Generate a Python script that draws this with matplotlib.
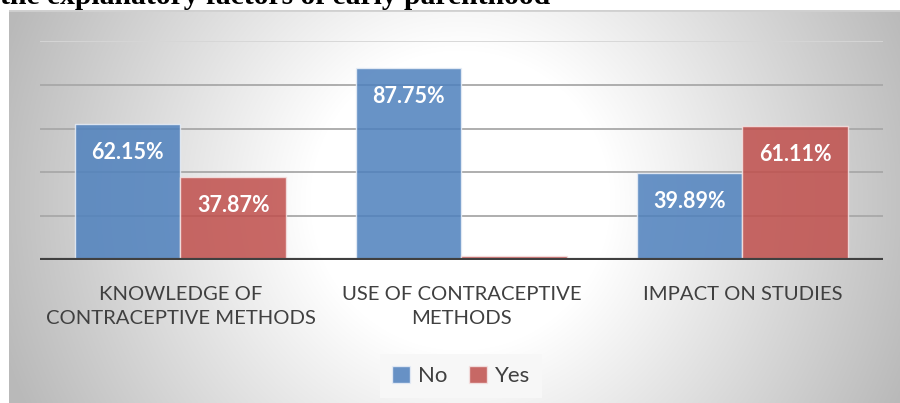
import matplotlib
matplotlib.use("Agg")
import matplotlib.pyplot as plt
import numpy as np

categories = ["KNOWLEDGE OF\nCONTRACEPTIVE METHODS", "USE OF CONTRACEPTIVE\nMETHODS", "IMPACT ON STUDIES"]
no_vals = [62.15, 87.75, 39.89]
yes_vals = [37.87, 1.8, 61.11]
no_labels = ["62.15%", "87.75%", "39.89%"]
yes_labels = ["37.87%", "", "61.11%"]
title = "the explanatory factors of early parenthood"

W, H = 900, 403
fig = plt.figure(figsize=(W / 100, H / 100), dpi=100)
fig.patch.set_facecolor("white")

# chart area background: radial grey-to-white gradient
bg = fig.add_axes([9 / W, 0, 1 - 9 / W, (H - 10) / H], zorder=0)
yy, xx = np.mgrid[0:H - 10, 0:W - 9]
r = np.hypot(xx + 9 - 460, yy + 10 - 200)
g = np.clip(255 - np.clip(r - 150, 0, None) * 0.21, 185, 255) / 255.0
bg.imshow(np.dstack([g, g, g]), aspect="auto", extent=(0, 1, 0, 1), origin="upper")
bg.set_xlim(0, 1)
bg.set_ylim(0, 1)
bg.axhline(1, color="#d0d0d0", lw=2)
bg.axis("off")

ax = fig.add_axes([40 / W, (H - 260) / H, 843 / W, 219 / H], zorder=1)
ax.patch.set_alpha(0)
x = np.arange(len(categories))
w = 0.377
for yv in [20, 40, 60, 80]:
    ax.axhline(yv, color="#a8a8a8", lw=1.3, zorder=1)
ax.axhline(100, color="#d6d6d6", lw=1.3, zorder=1)

b1 = ax.bar(x - w / 2, no_vals, w, color="#4F81BD", alpha=0.86, edgecolor="#e8eef7",
            linewidth=1, zorder=2, label="No")
b2 = ax.bar(x + w / 2, yes_vals, w, color="#C0504D", alpha=0.86, edgecolor="#f5e3e3",
            linewidth=1, zorder=2, label="Yes")

for rects, labs in [(b1, no_labels), (b2, yes_labels)]:
    for rect, lab in zip(rects, labs):
        if not lab:
            continue
        ax.annotate(lab, (rect.get_x() + rect.get_width() / 2, rect.get_height()),
                    xytext=(0, -20.5), textcoords="offset points", ha="center", va="center",
                    color="white", fontsize=15.5, fontweight="bold", fontfamily="Lato", zorder=3)

ax.axhline(0, color="#404040", lw=3, zorder=4)
ax.set_xlim(-0.5, 2.5)
ax.set_ylim(0, 100)
ax.set_xticks(x)
ax.set_xticklabels(categories, fontsize=14.6, color="#404040", fontfamily="Lato", linespacing=1.5)
ax.tick_params(axis="x", length=0, pad=19)
ax.set_yticks([])
for s in ax.spines.values():
    s.set_visible(False)

leg = fig.legend(loc="center", bbox_to_anchor=(461 / W, 1 - 376 / H), ncol=2, frameon=True,
                 fancybox=False, facecolor="#f7f7f7", edgecolor="none", framealpha=1,
                 handlelength=0.8, handleheight=0.8, handletextpad=0.35, columnspacing=1.0,
                 prop={"family": "Lato", "size": 16}, borderpad=0.55)
for t in leg.get_texts():
    t.set_color("#404040")

fig.text(0, 1 - 4 / H, title, fontfamily="Liberation Serif", fontweight="bold", fontsize=21.3,
         va="baseline", ha="left", color="black")

fig.savefig("out.png", dpi=100)
